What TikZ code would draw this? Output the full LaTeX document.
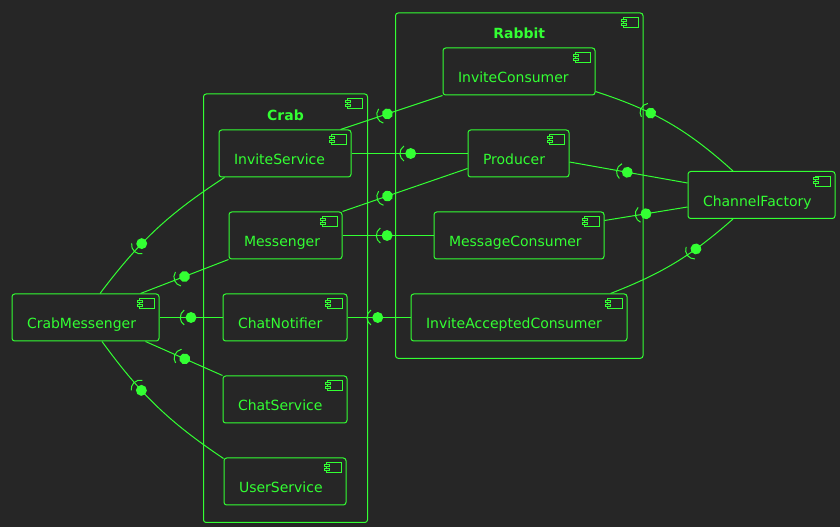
\documentclass[tikz,border=0pt]{standalone}
\usepackage{fontspec}
\setmainfont{DejaVu Sans}
\usepackage{tikz}
\usetikzlibrary{calc}
\usetikzlibrary{decorations.markings}
\definecolor{bgdark}{RGB}{38,38,38}
\definecolor{limegreen}{RGB}{51,255,51}
\tikzset{component/.style={draw=limegreen, fill=bgdark, line width=0.75pt, rounded corners=2pt, text=limegreen, align=left, inner xsep=11.25pt, inner ysep=0pt, text height=26.25pt, text depth=9pt, text width={(#1-30)*0.75pt}, font=\fontsize{10.5}{12}\selectfont}}
\tikzset{package/.style={draw=limegreen, line width=0.75pt, rounded corners=2pt, inner sep=0pt}}
\tikzset{packagetitle/.style={text=limegreen, font=\fontsize{10.5}{12}\selectfont\bfseries}}
\tikzset{iconline/.style={draw=limegreen, line width=0.75pt}}
\tikzset{link/.style={draw=limegreen, line width=0.75pt}}
\tikzset{lollipop/.style={postaction={decorate, decoration={markings, mark=at position #1 with {
  \fill[limegreen] (0,0) circle (4.1pt);
  \draw[limegreen, line width=0.75pt] (-1.3pt,0pt) ++(124:6.75pt) arc[start angle=124, end angle=236, radius=6.75pt];
}}}}}
\newcommand{\compicon}[1]{%
  \draw[iconline] ($(#1.north east)+(-20.5,5.5)$) rectangle ++(15,10);
  \draw[iconline, fill=bgdark] ($(#1.north east)+(-22.5,7)$) rectangle ++(5,2);
  \draw[iconline, fill=bgdark] ($(#1.north east)+(-22.5,11)$) rectangle ++(5,2);
}

\begin{document}
\begin{tikzpicture}[x=0.75pt, y=-0.75pt]
        % Background
        \fill[bgdark] (0,0) rectangle (840,527);
        \useasboundingbox (0,0) rectangle (840,527);

        % Packages
        \node[package, minimum width=164*0.75pt, minimum height=428.5*0.75pt] (crab) at (285.5,308.25) {};
        \node[packagetitle] (crabtitle) at ($(crab.north)+(0,22)$) {Crab};
        \node[package, minimum width=247.5*0.75pt, minimum height=345.3*0.75pt] (rabbit) at (519.25,185.65) {};
        \node[packagetitle] (rabbittitle) at ($(rabbit.north)+(0,21)$) {Rabbit};

        % Components
        \node[component=147] (crabmsg) at (85.5,317.5) {CrabMessenger};
        \node[component=132] (invsvc) at (285,153.5) {InviteService};
        \node[component=113] (messenger) at (285.5,235.5) {Messenger};
        \node[component=124] (chatnotif) at (285,317.5) {ChatNotifier};
        \node[component=124] (chatsvc) at (285,399.5) {ChatService};
        \node[component=122] (usersvc) at (285,481.5) {UserService};
        \node[component=152] (invcons) at (519,71.5) {InviteConsumer};
        \node[component=101] (producer) at (518.5,153.5) {Producer};
        \node[component=170] (msgcons) at (519,235.5) {MessageConsumer};
        \node[component=216] (invacc) at (519,317.5) {InviteAcceptedConsumer};
        \node[component=147] (chanfact) at (761.5,195) {ChannelFactory};

        \foreach \n in {crab,rabbit,crabmsg,invsvc,messenger,chatnotif,chatsvc,usersvc,invcons,producer,msgcons,invacc,chanfact}
            \compicon{\n};

        % Links from CrabMessenger
        \draw[link, lollipop=0.38] ($(crabmsg.north)+(14.5,0)$) to[bend left=10] ($(invsvc.south west)+(6,0)$);
        \draw[link, lollipop=0.5] ($(crabmsg.north east)+(-19,0)$) -- (messenger.south west);
        \draw[link, lollipop=0.5] (crabmsg.east) -- (chatnotif.west);
        \draw[link, lollipop=0.51] ($(crabmsg.south east)+(-14,0)$) -- (chatsvc.north west);
        \draw[link, lollipop=0.37] ($(crabmsg.south)+(16.5,0)$) to[bend right=10] ($(usersvc.north west)+(0,1)$);

        % Links from Crab to Rabbit
        \draw[link, lollipop=0.46] ($(invsvc.north east)+(-11,0)$) -- (invcons.south west);
        \draw[link, lollipop=0.51] (invsvc.east) -- (producer.west);
        \draw[link, lollipop=0.36] (messenger.north east) -- ($(producer.south west)+(0,-9)$);
        \draw[link, lollipop=0.49] (messenger.east) -- (msgcons.west);
        \draw[link, lollipop=0.48] (chatnotif.east) -- (invacc.west);

        % Links to ChannelFactory
        \draw[link, lollipop=0.37] ($(invcons.south east)+(0,-4)$) to[bend left=12] ($(chanfact.north)+(-28.5,0)$);
        \draw[link, lollipop=0.49] ($(producer.east)+(0,8.5)$) -- ($(chanfact.west)+(0,-12)$);
        \draw[link, lollipop=0.5] ($(msgcons.north east)+(0,9)$) -- ($(chanfact.west)+(0,12)$);
        \draw[link, lollipop=0.67] ($(invacc.north east)+(-17,0)$) to[bend right=10] ($(chanfact.south)+(-28.5,0)$);
    \end{tikzpicture}
\end{document}
